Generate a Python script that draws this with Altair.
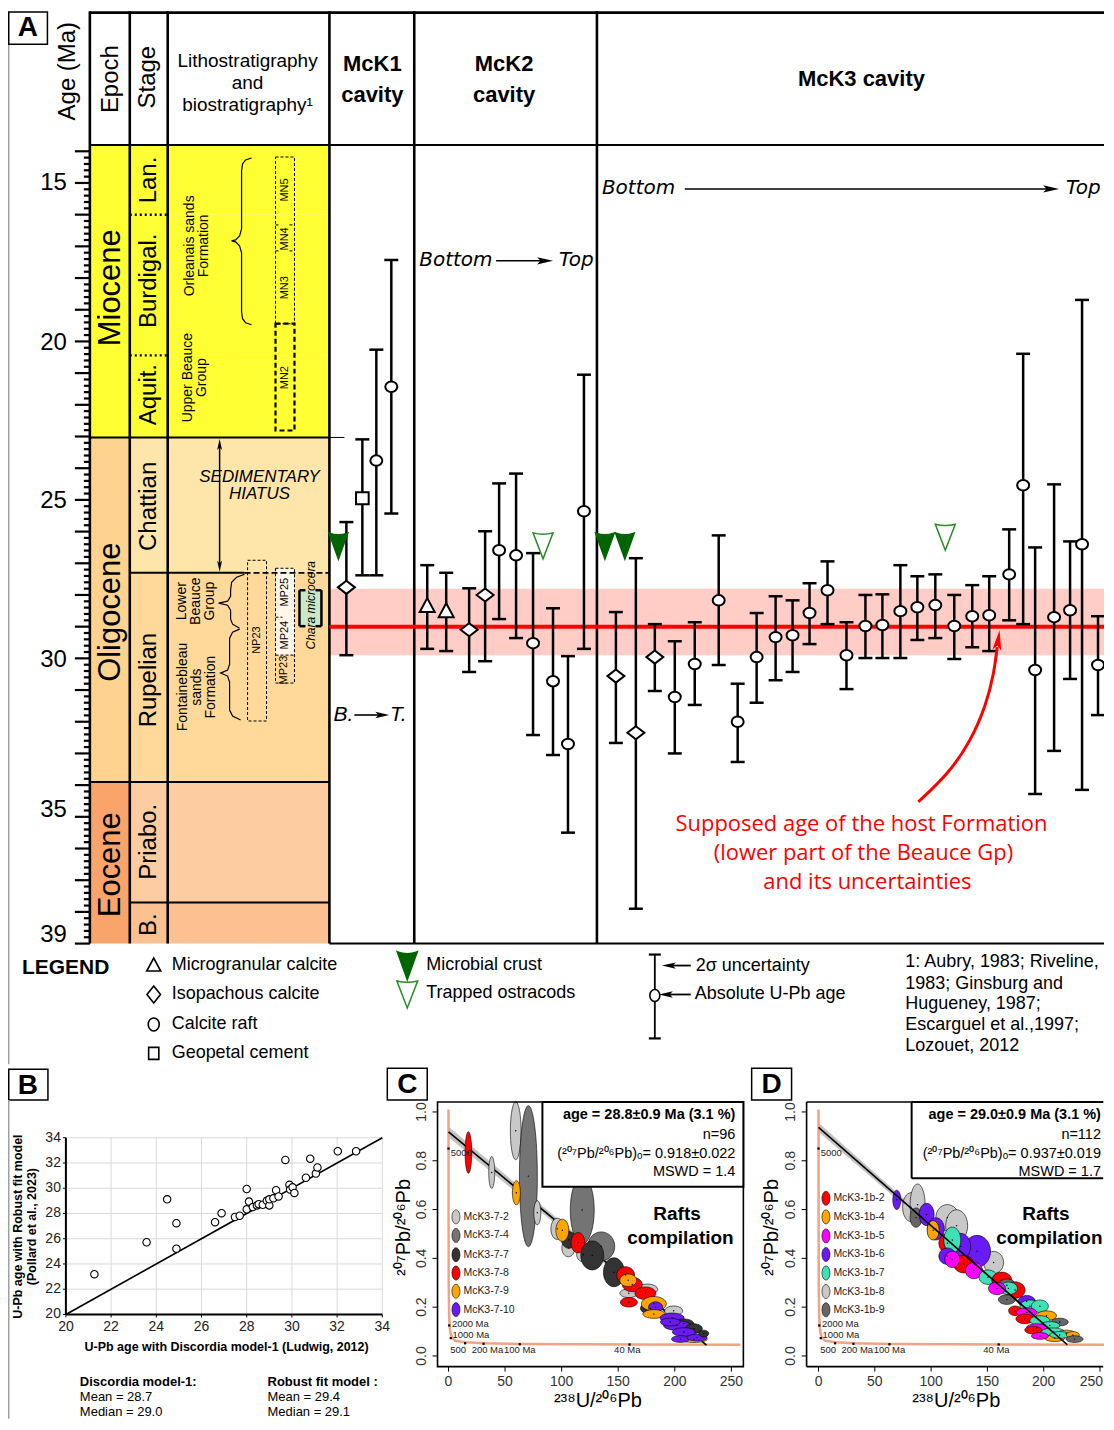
import altair as alt
import pandas as pd

F = "Liberation Sans"

# =====================================================================
# PANEL A DATA : U-Pb ages (Ma) of McK cavity calcites, 2-sigma bounds
# =====================================================================
seq_pos = [347, 363, 377, 392,
           428, 447, 470, 486, 500, 517, 534, 554, 569, 585,
           617, 637, 656, 676, 696, 720, 739, 758, 777, 794, 811, 829, 848,
           867, 884, 902, 919, 937, 956, 974, 991, 1011, 1025, 1037, 1056, 1072, 1084, 1100, 1116]
age_ma = [27.76, 24.95, 23.76, 21.43,
          28.32, 28.48, 29.10, 28.00, 26.59, 26.75, 29.52, 30.72, 32.70, 25.36,
          30.56, 32.35, 29.96, 31.22, 30.18, 28.17, 32.00, 29.96, 29.33, 29.27, 28.57, 27.85, 29.90,
          28.98, 28.95, 28.51, 28.39, 28.32, 28.98, 28.67, 28.64, 27.35, 24.54, 30.37, 28.70, 28.48, 26.40, 30.21, 29.17]
age_young = [25.70, 23.09, 20.26, 17.43,
             27.06, 27.30, 27.79, 25.99, 24.48, 24.17, 26.68, 28.42, 29.93, 21.05,
             28.54, 26.84, 28.92, 29.46, 28.86, 26.12, 30.80, 28.57, 28.04, 28.17, 27.63, 26.94, 28.86,
             28.00, 27.98, 27.06, 27.41, 27.35, 28.00, 27.69, 27.41, 25.93, 20.39, 26.50, 24.51, 26.31, 18.69, 28.67, 26.75]
age_old = [29.90, 27.38, 27.38, 25.43,
           29.70, 29.77, 30.43, 30.09, 28.76, 29.36, 32.42, 33.05, 35.50, 29.70,
           32.67, 37.90, 31.03, 33.00, 31.47, 30.21, 33.27, 31.40, 30.69, 30.43, 29.55, 28.92, 30.97,
           29.99, 29.99, 29.99, 29.42, 29.36, 30.02, 29.65, 29.77, 28.80, 28.92, 34.28, 32.92, 30.65, 34.15, 31.79, 31.00]
calcite = (["Isopachous", "Geopetal", "Raft", "Raft"]
           + ["Microgranular", "Microgranular", "Isopachous", "Isopachous"] + ["Raft"] * 6
           + ["Isopachous"] * 3 + ["Raft"] * 25 + ["Isopachous"])

crust_pos = [339, 606, 626]
crust_age = [26.45, 26.45, 26.45]
ostra_pos = [544, 947]
ostra_age = [26.45, 26.18]

host_age = 29.0
host_band = [27.8, 29.9]

epoch_name = ["Miocene", "Oligocene", "Eocene"]
epoch_top = [13.8, 23.03, 33.9]
epoch_base = [23.03, 33.9, 39.0]
stage_name = ["Lan.", "Burdigal.", "Aquit.", "Chattian", "Rupelian", "Priabo.", "B."]
stage_top = [13.8, 16.0, 20.44, 23.03, 27.3, 33.9, 37.7]
stage_base = [16.0, 20.44, 23.03, 27.3, 33.9, 37.7, 39.0]
age_labels = [15, 20, 25, 30, 35, 39]

# =====================================================================
# PANEL B DATA : Discordia model-1 vs Robust fit ages (Ma)
# =====================================================================
b_discordia = [21.26, 23.57, 24.48, 24.89, 24.89, 26.60, 26.89, 27.48, 27.69, 28.00, 28.00,
               28.10, 28.27, 28.45, 28.53, 28.71, 28.89, 29.00, 29.00, 29.18, 29.30, 29.41,
               29.71, 29.89, 29.92, 30.03, 30.11, 30.62, 30.81, 31.06, 31.13, 32.03, 32.84]
b_robust = [23.19, 25.72, 29.12, 27.23, 25.21, 27.31, 28.02, 27.72, 27.82, 29.94, 28.33,
            28.94, 28.51, 28.64, 28.74, 28.69, 29.00, 28.64, 29.12, 29.20, 29.84, 29.35,
            32.24, 30.27, 29.89, 30.07, 29.63, 30.83, 32.34, 31.16, 31.65, 32.93, 32.93]
b_ticks = [20, 22, 24, 26, 28, 30, 32, 34]

# =====================================================================
# PANEL C / D DATA : Tera-Wasserburg ellipses (238U/206Pb, 207Pb/206Pb)
# ellipse width / height in px
# =====================================================================
c_sample = ["McK3-7-2", "McK3-7-4", "McK3-7-4", "McK3-7-4", "McK3-7-8", "McK3-7-2", "McK3-7-9",
            "McK3-7-2", "McK3-7-2", "McK3-7-2", "McK3-7-2", "McK3-7-7", "McK3-7-9", "McK3-7-8",
            "McK3-7-7", "McK3-7-7", "McK3-7-2", "McK3-7-2", "McK3-7-8", "McK3-7-8", "McK3-7-9",
            "McK3-7-8", "McK3-7-8", "McK3-7-7", "McK3-7-9", "McK3-7-2", "McK3-7-10", "McK3-7-9",
            "McK3-7-10", "McK3-7-7", "McK3-7-10", "McK3-7-7", "McK3-7-10", "McK3-7-9", "McK3-7-10",
            "McK3-7-10", "McK3-7-7", "McK3-7-10"]
c_u238 = [59.4, 70.6, 118.2, 135.0, 17.6, 38.2, 60.0,
          78.5, 96.2, 105.9, 119.0, 106.5, 100.6, 114.4,
          127.0, 146.2, 175.6, 159.4, 156.5, 162.4, 158.8,
          174.0, 159.4, 178.5, 181.5, 199.0, 183.0, 181.5,
          197.6, 208.0, 202.0, 216.8, 208.0, 216.8, 205.0,
          219.7, 225.6, 196.0]
c_pb207 = [0.923, 0.737, 0.598, 0.449, 0.834, 0.752, 0.669,
           0.587, 0.521, 0.442, 0.416, 0.475, 0.515, 0.464,
           0.412, 0.343, 0.273, 0.257, 0.332, 0.293, 0.310,
           0.257, 0.220, 0.195, 0.214, 0.185, 0.200, 0.172,
           0.156, 0.132, 0.125, 0.112, 0.098, 0.069, 0.069,
           0.075, 0.092, 0.139]
c_w = [10.7, 18, 24, 27, 6.7, 6, 8,
       7, 13, 13, 13, 15, 13, 14,
       23, 21, 21, 18, 18, 20, 17,
       21, 17, 20, 25, 18, 14, 22,
       24, 20, 27, 17, 23, 27, 18,
       20, 10, 20]
c_h = [60, 146, 70, 30, 43, 33, 25,
       25, 22, 18, 15, 17, 23, 21,
       30, 30, 11, 9, 17, 15, 13,
       13, 10, 12, 15, 10, 11, 9,
       10, 10, 10, 10, 9, 7, 7,
       7, 7, 8]

d_sample = ["McK3-1b-8", "McK3-1b-8", "McK3-1b-8", "McK3-1b-8", "McK3-1b-8", "McK3-1b-9", "McK3-1b-6",
            "McK3-1b-6", "McK3-1b-6", "McK3-1b-4", "McK3-1b-6", "McK3-1b-6", "McK3-1b-2", "McK3-1b-7",
            "McK3-1b-6", "McK3-1b-2", "McK3-1b-5", "McK3-1b-5", "McK3-1b-7", "McK3-1b-2", "McK3-1b-9",
            "McK3-1b-2", "McK3-1b-7", "McK3-1b-5", "McK3-1b-9", "McK3-1b-6", "McK3-1b-7", "McK3-1b-7",
            "McK3-1b-2", "McK3-1b-5", "McK3-1b-4", "McK3-1b-2", "McK3-1b-7", "McK3-1b-9", "McK3-1b-7",
            "McK3-1b-5", "McK3-1b-2", "McK3-1b-7", "McK3-1b-4", "McK3-1b-4", "McK3-1b-7", "McK3-1b-5",
            "McK3-1b-4", "McK3-1b-9"]
d_u238 = [82.2, 88.0, 114.4, 122.7, 155.5, 86.6, 69.5,
          96.0, 104.2, 101.8, 140.8, 126.2, 114.4, 118.8,
          114.4, 129.0, 118.8, 138.0, 150.5, 162.8, 167.3,
          174.6, 168.7, 158.5, 167.3, 184.9, 187.8, 196.6,
          174.6, 184.9, 202.5, 183.3, 196.6, 214.2, 205.4,
          193.7, 190.7, 208.3, 220.0, 209.8, 214.2, 196.6,
          225.9, 227.4]
d_pb207 = [0.610, 0.620, 0.567, 0.534, 0.383, 0.567, 0.640,
           0.580, 0.521, 0.515, 0.429, 0.449, 0.462, 0.475,
           0.409, 0.376, 0.396, 0.350, 0.323, 0.310, 0.290,
           0.270, 0.277, 0.277, 0.231, 0.224, 0.204, 0.204,
           0.185, 0.178, 0.165, 0.152, 0.145, 0.139, 0.125,
           0.116, 0.106, 0.099, 0.092, 0.073, 0.086, 0.082,
           0.086, 0.069]
d_w = [17, 15, 23, 22, 20, 12, 8,
       15, 17, 12, 27, 20, 17, 17,
       17, 20, 15, 17, 18, 20, 17,
       20, 18, 17, 17, 17, 20, 17,
       13, 20, 20, 18, 20, 17, 20,
       20, 17, 23, 17, 20, 20, 17,
       13, 17]
d_h = [30, 43, 27, 33, 23, 20, 20,
       23, 23, 20, 33, 27, 20, 27,
       17, 18, 17, 17, 15, 17, 13,
       17, 13, 13, 10, 12, 13, 13,
       10, 10, 10, 10, 10, 8, 8,
       8, 8, 8, 7, 7, 7, 7,
       7, 7]
tw_xticks = [0, 50, 100, 150, 200, 250]
tw_yticks = [0.0, 0.2, 0.4, 0.6, 0.8, 1.0]

# concordia curve (238U/206Pb, 207Pb/206Pb)
conc_u = [0.0, 0.05, 0.2, 0.6, 1.5, 3.0, 6.0, 15.0, 31.0, 64.0, 160.0, 258.0]
conc_pb = [1.01, 0.60, 0.30, 0.16, 0.10, 0.075, 0.062, 0.056, 0.052, 0.049, 0.047, 0.046]
conc_mark_u = [0.0, 0.6, 2.0, 14.7, 31.0, 63.0, 160.0]
conc_mark_pb = [0.85, 0.125, 0.073, 0.052, 0.050, 0.048, 0.047]
conc_lab = ["5000", "2000 Ma", "1000 Ma", "500", "200 Ma", "100 Ma", "40 Ma"]

# regression (anchored) lines : intercept, end point
c_reg_u = [0.0, 228.0]
c_reg_pb = [0.918, 0.044]
c_reg_err = [0.022, 0.004]
d_reg_u = [0.0, 221.0]
d_reg_pb = [0.937, 0.046]
d_reg_err = [0.019, 0.004]

c_stats = ["age = 28.8\u00b10.9 Ma (3.1 %)", "n=96",
           "(\u00b2\u2070\u2077Pb/\u00b2\u2070\u2076Pb)\u2092= 0.918\u00b10.022", "MSWD = 1.4"]
d_stats = ["age = 29.0\u00b10.9 Ma (3.1 %)", "n=112",
           "(\u00b2\u2070\u2077Pb/\u00b2\u2070\u2076Pb)\u2092= 0.937\u00b10.019", "MSWD = 1.7"]

C_COL = {"McK3-7-2": "#C8C8C8", "McK3-7-4": "#747474", "McK3-7-7": "#333333",
         "McK3-7-8": "#FF0000", "McK3-7-9": "#FFA500", "McK3-7-10": "#6A1BF5"}
D_COL = {"McK3-1b-2": "#FF0000", "McK3-1b-4": "#FFA500", "McK3-1b-5": "#FF00FF",
         "McK3-1b-6": "#6A1BF5", "McK3-1b-7": "#3FE0B4", "McK3-1b-8": "#C8C8C8",
         "McK3-1b-9": "#666666"}

# =====================================================================
# helpers
# =====================================================================
def ell_path(w, h):
    m = max(w, h)
    rx, ry = w / m, h / m
    k = 0.5523
    f = lambda v: f"{v:.3f}"
    return (f"M{f(rx)},0 C{f(rx)},{f(k*ry)} {f(k*rx)},{f(ry)} 0,{f(ry)} "
            f"C{f(-k*rx)},{f(ry)} {f(-rx)},{f(k*ry)} {f(-rx)},0 "
            f"C{f(-rx)},{f(-k*ry)} {f(-k*rx)},{f(-ry)} 0,{f(-ry)} "
            f"C{f(k*rx)},{f(-ry)} {f(rx)},{f(-k*ry)} {f(rx)},0 Z")


def enc_xy(sx, sy):
    return dict(x=alt.X("x:Q", scale=sx, axis=None), y=alt.Y("y:Q", scale=sy, axis=None))


def rects(rows, sx, sy, fillcol=False, **mk):
    cols = ["x", "x2", "y", "y2"] + (["c"] if fillcol else [])
    df = pd.DataFrame(rows, columns=cols)
    enc = enc_xy(sx, sy)
    enc.update(x2=alt.X2("x2"), y2=alt.Y2("y2"))
    if fillcol:
        enc["fill"] = alt.Fill("c:N", scale=None)
    return alt.Chart(df).mark_rect(**mk).encode(**enc)


def segs(rows, sx, sy, **mk):
    df = pd.DataFrame(rows, columns=["x", "y", "x2", "y2"])
    enc = enc_xy(sx, sy)
    enc.update(x2=alt.X2("x2"), y2=alt.Y2("y2"))
    return alt.Chart(df).mark_rule(**mk).encode(**enc)


def texts(rows, sx, sy, **mk):
    df = pd.DataFrame(rows, columns=["t", "x", "y", "s", "a"])
    enc = enc_xy(sx, sy)
    enc.update(text=alt.Text("t:N"), size=alt.Size("s:Q", scale=None),
               angle=alt.Angle("a:Q", scale=None))
    mk.setdefault("baseline", "middle")
    return alt.Chart(df).mark_text(**mk).encode(**enc)


def syms(rows, sx, sy, **mk):
    df = pd.DataFrame(rows, columns=["x", "y", "p", "s", "a"])
    enc = enc_xy(sx, sy)
    enc.update(shape=alt.Shape("p:N", scale=None), size=alt.Size("s:Q", scale=None),
               angle=alt.Angle("a:Q", scale=None))
    mk.setdefault("opacity", 1)
    return alt.Chart(df).mark_point(**mk).encode(**enc)


def ticks(rows, sx, sy, size=13, width=2.5):
    df = pd.DataFrame(rows, columns=["x", "y"])
    return alt.Chart(df).mark_tick(orient="horizontal", size=size, thickness=width,
                                   color="black", opacity=1).encode(**enc_xy(sx, sy))


def curve(rows, sx, sy, **mk):
    df = pd.DataFrame(rows, columns=["g", "o", "x", "y"])
    enc = enc_xy(sx, sy)
    enc.update(detail="g:N", order="o:Q")
    return alt.Chart(df).mark_line(**mk).encode(**enc)


def ptext(t, x, y, size, **mk):
    mk.setdefault("baseline", "middle")
    return alt.Chart(pd.DataFrame({"t": [t]})).mark_text(fontSize=size, **mk).encode(
        x=alt.value(x), y=alt.value(y), text="t:N")


def prect(x, x2, y, y2, **mk):
    return alt.Chart(pd.DataFrame({"a": [0]})).mark_rect(**mk).encode(
        x=alt.value(x), x2=alt.value(x2), y=alt.value(y), y2=alt.value(y2))


TRI_R = "M1,0 L-1,-0.45 L-0.55,0 L-1,0.45 Z"
TRI_L = "M-1,0 L1,-0.45 L0.55,0 L1,0.45 Z"
TRI_U = "M0,-1 L0.45,1 L0,0.55 L-0.45,1 Z"
TRI_D = "M0,1 L0.45,-1 L0,-0.55 L-0.45,-1 Z"
CRUST = "M-0.72,-1 Q0,-0.72 0.72,-1 L0,1 Z"
OSTRA = "M-0.77,-1 Q0,-0.8 0.77,-1 L0,1 Z"
SHAPE = {"Microgranular": "M0,-0.93 L1,0.93 L-1,0.93 Z",
         "Isopachous": "M0,-0.77 L1,0 L0,0.77 L-1,0 Z",
         "Raft": ell_path(12, 10.5),
         "Geopetal": "M-1,-0.95 L1,-0.95 L1,0.95 L-1,0.95 Z"}
SIZE = {"Microgranular": 225, "Isopachous": 289, "Raft": 144, "Geopetal": 160}

# =====================================================================
# PANEL A
# =====================================================================
XR = 1106                    # right edge of the drawing (page px)
WA, HA = XR - 8, 1055


def ay(py):  # layout row (px from page top) -> position on the age axis
    return 15 + (py - 180) / 31.75


XA = alt.Scale(domain=[8, XR], range=[0, WA], nice=False, zero=False)
YA = alt.Scale(domain=[ay(8), ay(1063)], range=[0, HA], nice=False, zero=False)

EPOCH_COL = {"Miocene": "#FFFF33", "Oligocene": "#FDD38F", "Eocene": "#FAA46C"}
STAGE_COL = {"Lan.": "#FFFF33", "Burdigal.": "#FFFF33", "Aquit.": "#FFFF33",
             "Chattian": "#FEE6AA", "Rupelian": "#FED99A", "Priabo.": "#FDCDA1", "B.": "#FDC091"}

LA = []
fills = []
for n, t, b in zip(epoch_name, epoch_top, epoch_base):
    fills.append([90, 130, t, b, EPOCH_COL[n]])
for n, t, b in zip(stage_name, stage_top, stage_base):
    fills.append([130, 168, t, b, STAGE_COL[n]])
    fills.append([168, 330, t, b, STAGE_COL[n]])
LA.append(rects(fills, XA, YA, fillcol=True))
LA.append(rects([[330, XR, host_band[0], host_band[1], "#FFCDC6"],
                 [276, 295, ay(566), ay(653), "#FFF7EA"],
                 [300, 322, ay(588), ay(624), "#C8E8C8"],
                 [8.75, 47.5, ay(8.75), ay(41), "white"]], XA, YA, fillcol=True))

# age ruler + labels
int_ages = list(range(14, 40))
sub_ages = [round(14 + 0.2 * i, 1) for i in range(126) if (i % 5) != 0]
LA.append(segs([[75, a, 90, a] for a in int_ages] + [[84, a, 90, a] for a in sub_ages],
               XA, YA, color="black", strokeWidth=2.2))
label_rows = [ay(180), ay(340), ay(499), ay(658), ay(808), ay(933)]
LA.append(texts([[str(v), 67, yy, 24, 0] for v, yy in zip(age_labels, label_rows)], XA, YA,
                font=F, align="right", color="black"))

# frame / boundaries
LA.append(segs([[90, ay(9.3), XR, ay(9.3)],
                [90, ay(8), 90, 39.0], [130, ay(8), 130, 39.0], [168, ay(8), 168, 39.0],
                [330, ay(8), 330, 39.0], [415, ay(8), 415, 39.0], [598, ay(8), 598, 39.0]],
               XA, YA, color="black", strokeWidth=2.6))
LA.append(segs([[90, 13.8, XR, 13.8], [330, 39.0, XR, 39.0],
                [90, 23.03, 330, 23.03], [90, 33.9, 330, 33.9], [130, 37.7, 330, 37.7],
                [130, 27.3, 245, 27.3]], XA, YA, color="black", strokeWidth=2))
LA.append(segs([[330, 23.03, 345, 23.03]], XA, YA, color="black", strokeWidth=1))
LA.append(segs([[245, 27.3, 330, 27.3]], XA, YA, color="black", strokeWidth=1.8, strokeDash=[6, 3]))
LA.append(segs([[130, 16.0, 168, 16.0], [130, 20.44, 168, 20.44]], XA, YA,
               color="black", strokeWidth=2.5, strokeDash=[2, 3]))
LA.append(segs([[8.75, ay(41), 8.75, ay(1063)]], XA, YA, color="#A0A0A0", strokeWidth=1.5))
LA.append(rects([[8.75, 47.5, ay(8.75), ay(41)]], XA, YA, fillOpacity=0, stroke="black", strokeWidth=1.5))

# biostratigraphic boxes
LA.append(rects([[276, 295, ay(154), ay(321)], [248, 267, ay(558), ay(719)],
                 [276, 295, ay(566), ay(681)]], XA, YA,
                fillOpacity=0, stroke="black", strokeWidth=1, strokeDash=[3, 2]))
LA.append(rects([[276, 295, ay(321), ay(428)]], XA, YA,
                fillOpacity=0, stroke="black", strokeWidth=2.2, strokeDash=[5, 3]))
LA.append(segs([[276, ay(653), 295, ay(653)], [276, ay(615), 283, ay(615)],
                [276, ay(222), 281, ay(222)], [290, ay(222), 295, ay(222)],
                [276, ay(248), 281, ay(248)], [290, ay(248), 295, ay(248)]], XA, YA,
               color="black", strokeWidth=1, strokeDash=[3, 2]))
LA.append(segs([[300, ay(588), 300, ay(624)], [322, ay(588), 322, ay(624)],
                [300, ay(588), 306, ay(588)], [300, ay(624), 306, ay(624)],
                [316, ay(588), 322, ay(588)], [316, ay(624), 322, ay(624)]], XA, YA,
               color="black", strokeWidth=2.5))

# braces
brace_rows = []
b1 = [(252, 155), (246, 157), (243, 161), (242, 168), (242, 226), (240, 233), (236, 237), (232, 238),
      (236, 239), (240, 243), (242, 250), (242, 309), (243, 316), (246, 320), (252, 322)]
b2 = [(245, 572), (237, 575), (232, 580), (231, 588), (231, 594), (228, 599), (219, 601), (228, 603),
      (231, 608), (231, 617), (233, 622), (240, 626)]
b3 = [(240, 627), (233, 630), (230, 636), (230, 662), (228, 668), (221, 671), (228, 674), (230, 680),
      (230, 708), (233, 714), (241, 718)]
for g, pts in enumerate([b1, b2, b3]):
    for o, (px, py) in enumerate(pts):
        brace_rows.append([g, o, px, ay(py)])
LA.append(curve(brace_rows, XA, YA, color="black", strokeWidth=1.2))

# hiatus double arrow
LA.append(segs([[220, ay(444), 220, ay(562)]], XA, YA, color="black", strokeWidth=1.5))
LA.append(syms([[220, ay(442), TRI_U, 121, 0], [220, ay(564), TRI_D, 121, 0]], XA, YA,
               filled=True, color="black"))

# host formation age
LA.append(segs([[330, host_age, XR, host_age]], XA, YA, color="#FF0000", strokeWidth=4))

# error bars, caps and points
dfp = pd.DataFrame({"x": seq_pos, "y": age_ma, "lo": age_young, "hi": age_old, "k": calcite})
dfp["p"] = dfp["k"].map(SHAPE)
dfp["s"] = dfp["k"].map(SIZE)
LA.append(alt.Chart(dfp).mark_rule(color="black", strokeWidth=2.5, clip=True).encode(
    x=alt.X("x:Q", scale=XA, axis=None), y=alt.Y("lo:Q", scale=YA, axis=None), y2=alt.Y2("hi")))
LA.append(alt.Chart(dfp).mark_tick(orient="horizontal", size=14, thickness=2.5, color="black",
                                   opacity=1, clip=True).encode(
    x=alt.X("x:Q", scale=XA, axis=None), y=alt.Y("lo:Q", scale=YA, axis=None)))
LA.append(alt.Chart(dfp).mark_tick(orient="horizontal", size=14, thickness=2.5, color="black",
                                   opacity=1, clip=True).encode(
    x=alt.X("x:Q", scale=XA, axis=None), y=alt.Y("hi:Q", scale=YA, axis=None)))
LA.append(alt.Chart(dfp).mark_point(filled=True, fill="white", stroke="black", strokeWidth=2,
                                    opacity=1, clip=True).encode(
    x=alt.X("x:Q", scale=XA, axis=None), y=alt.Y("y:Q", scale=YA, axis=None),
    shape=alt.Shape("p:N", scale=None), size=alt.Size("s:Q", scale=None)))
LA.append(syms([[x, a, CRUST, 625, 0] for x, a in zip(crust_pos, crust_age)], XA, YA,
               filled=True, fill="#006400", stroke="#006400"))
LA.append(syms([[x, a, OSTRA, 676, 0] for x, a in zip(ostra_pos, ostra_age)], XA, YA,
               filled=False, color="#2A8A2A", strokeWidth=1.5))

# Bottom -> Top arrows
LA.append(segs([[355, ay(713), 382, ay(713)], [497, ay(258), 545, ay(258)],
                [686, ay(186), 1052, ay(186)]], XA, YA, color="black", strokeWidth=1.6))
LA.append(syms([[383, ay(713), TRI_R, 196, 0], [546, ay(258), TRI_R, 256, 0],
                [1053, ay(186), TRI_R, 256, 0]], XA, YA, filled=True, color="black"))

# red annotation arrow
red_pts = [(920, 800), (950, 772), (972, 740), (988, 703), (996, 670), (999, 645)]
LA.append(curve([[0, o, px, ay(py)] for o, (px, py) in enumerate(red_pts)], XA, YA,
                color="#FF0000", strokeWidth=3, interpolate="basis"))
LA.append(syms([[1000, ay(638), TRI_U, 400, 8]], XA, YA, filled=True, color="#FF0000"))

# --- texts ---
LA.append(texts([
    ["Age (Ma)", 68, ay(68), 24, 270], ["Epoch", 111, ay(76), 24, 270], ["Stage", 148, ay(74), 24, 270],
    ["Lithostratigraphy", 248, ay(58), 19, 0], ["and", 248, ay(80), 19, 0],
    ["biostratigraphy\u00b9", 248, ay(102), 19, 0],
    ["Miocene", 111, ay(285), 31, 270], ["Oligocene", 111, ay(610), 31, 270], ["Eocene", 111, ay(863), 31, 270],
    ["Lan.", 149, ay(177), 24, 270], ["Burdigal.", 149, ay(278), 24, 270], ["Aquit.", 149, ay(392), 24, 270],
    ["Chattian", 149, ay(504), 24, 270], ["Rupelian", 149, ay(678), 24, 270], ["Priabo.", 149, ay(840), 24, 270],
    ["B.", 149, ay(923), 24, 270],
    ["Orleanais sands", 190, ay(243), 14, 270], ["Formation", 204, ay(243), 14, 270],
    ["Upper Beauce", 188, ay(375), 14, 270], ["Group", 202, ay(375), 14, 270],
    ["Lower", 182, ay(599), 14, 270], ["Beauce", 196, ay(599), 14, 270], ["Group", 210, ay(599), 14, 270],
    ["Fontainebleau", 183, ay(685), 14, 270], ["sands", 197, ay(685), 14, 270],
    ["Formation", 211, ay(685), 14, 270],
    ["MN5", 286, ay(187), 11, 270], ["MN4", 286, ay(236), 11, 270], ["MN3", 286, ay(285), 11, 270],
    ["MN2", 286, ay(375), 11, 270], ["NP23", 257, ay(638), 11, 270], ["MP25", 286, ay(590), 11, 270],
    ["MP24", 286, ay(633), 11, 270], ["MP23", 285, ay(668), 11, 270],
], XA, YA, font=F, align="center", color="black"))
LA.append(texts([["McK1", 373, ay(61), 22, 0], ["cavity", 373, ay(92), 22, 0],
                 ["McK2", 505, ay(61), 22, 0], ["cavity", 505, ay(92), 22, 0],
                 ["McK3 cavity", 863, ay(76), 22, 0], ["A", 28, ay(25), 28, 0]],
                XA, YA, font=F, fontWeight="bold", align="center", color="black"))
LA.append(texts([["SEDIMENTARY", 260, ay(475), 17, 0], ["HIATUS", 260, ay(492), 17, 0],
                 ["B.", 344, ay(713), 21, 0], ["T.", 399, ay(713), 21, 0],
                 ["Chara microcera", 312, ay(603), 12, 270]],
                XA, YA, font=F, fontStyle="italic", align="center", color="black"))
LA.append(texts([["Bottom", 420, ay(257), 20, 0], ["Top", 560, ay(257), 20, 0],
                 ["Bottom", 603, ay(185), 20, 0], ["Top", 1068, ay(185), 20, 0]],
                XA, YA, font="DejaVu Sans", fontStyle="italic", align="left", color="black"))
LA.append(texts([["Supposed age of the host Formation", 863, ay(822), 22, 0],
                 ["(lower part of the Beauce Gp)", 865, ay(851), 22, 0],
                 ["and its uncertainties", 869, ay(880), 22, 0]],
                XA, YA, font="Open Sans", align="center", color="#FF0000"))

# --- legend ---
LA.append(texts([["LEGEND", 22, ay(966), 21, 0]], XA, YA, font=F, fontWeight="bold",
                align="left", color="black"))
LA.append(texts([["Microgranular calcite", 172, ay(963), 18, 0], ["Isopachous calcite", 172, ay(993), 18, 0],
                 ["Calcite raft", 172, ay(1023), 18, 0], ["Geopetal cement", 172, ay(1052), 18, 0],
                 ["Microbial crust", 427, ay(963), 18, 0], ["Trapped ostracods", 427, ay(992), 18, 0],
                 ["2\u03c3 uncertainty", 697, ay(964), 18, 0], ["Absolute U-Pb age", 696, ay(993), 18, 0],
                 ["1: Aubry, 1983; Riveline,", 907, ay(960), 18, 0], ["1983; Ginsburg and", 907, ay(982), 18, 0],
                 ["Hugueney, 1987;", 907, ay(1003), 18, 0], ["Escarguel et al.,1997;", 907, ay(1024), 18, 0],
                 ["Lozouet, 2012", 907, ay(1045), 18, 0]],
                XA, YA, font=F, align="left", color="black"))
LA.append(syms([[154, ay(963), "M0,-0.93 L1,0.93 L-1,0.93 Z", 196, 0],
                [154, ay(993), "M0,-1 L0.8,0 L0,1 L-0.8,0 Z", 289, 0],
                [154, ay(1023), ell_path(11, 13), 169, 0],
                [154, ay(1052), "M-0.85,-1 L0.85,-1 L0.85,1 L-0.85,1 Z", 144, 0]], XA, YA,
               filled=True, fill="white", stroke="black", strokeWidth=1.6))
LA.append(syms([[408, ay(964), CRUST, 729, 0]], XA, YA, filled=True, fill="#006400", stroke="#006400"))
LA.append(syms([[408, ay(993), OSTRA, 729, 0]], XA, YA, filled=False, color="#2A8A2A", strokeWidth=1.5))
LA.append(segs([[656, ay(953), 656, ay(1037)], [670, ay(964), 692, ay(964)], [666, ay(993), 692, ay(993)]],
               XA, YA, color="black", strokeWidth=1.8))
LA.append(ticks([[656, ay(953)], [656, ay(1037)]], XA, YA, size=12, width=2.2))
LA.append(syms([[656, ay(994), ell_path(10, 12), 144, 0]], XA, YA, filled=True, fill="white",
               stroke="black", strokeWidth=1.6))
LA.append(syms([[670, ay(964), TRI_L, 196, 0], [667, ay(993), TRI_L, 196, 0]], XA, YA,
               filled=True, color="black"))

panelA = alt.layer(*LA).properties(width=WA, height=HA)

# =====================================================================
# bottom panels layout
# =====================================================================
HB = 355
VF = HB / 367.0
WB, WC = 377, 365
WD = XR - 8 - WB - WC


def by(py):  # page row of the reference (px) -> row inside the bottom panels
    return (py - 1063) * VF


# ------------------------------ PANEL B ------------------------------
XB = alt.Scale(domain=[20, 34], range=[58, 375], nice=False, zero=False)
YB = alt.Scale(domain=[20, 34], range=[by(1322), by(1139)], nice=False, zero=False)
pxB = (375 - 58) / 14.0
pyB = (by(1322) - by(1139)) / 14.0
LB = []
LB.append(segs([[v, 20, v, 34] for v in b_ticks] + [[20, v, 34, v] for v in b_ticks],
               XB, YB, color="#D9D9D9", strokeWidth=1))
LB.append(segs([[20, 20, 34, 34]], XB, YB, color="black", strokeWidth=1.6))
LB.append(segs([[20, 20, 34, 20], [20, 20, 20, 34]], XB, YB, color="black", strokeWidth=2))
LB.append(segs([[v, 20, v, 20 - 3 / pyB] for v in b_ticks] + [[20, v, 20 - 3 / pxB, v] for v in b_ticks],
               XB, YB, color="black", strokeWidth=1))
LB.append(texts([[str(v), v, 20 - (by(1335) - by(1322)) / pyB, 14, 0] for v in b_ticks], XB, YB, font=F,
                align="center", color="#222222"))
LB.append(texts([[str(v), 20 - 5 / pxB, v, 14, 0] for v in b_ticks], XB, YB, font=F,
                align="right", color="#222222"))
dfb = pd.DataFrame({"x": b_discordia, "y": b_robust})
LB.append(alt.Chart(dfb).mark_point(shape="circle", filled=True, fill="white", stroke="black",
                                    strokeWidth=1.1, size=55, opacity=1).encode(**enc_xy(XB, YB)))
LB.append(ptext("U-Pb age with Discordia model-1 (Ludwig, 2012)", 219, by(1356), 12.5, font=F,
                fontWeight="bold", align="center"))
LB.append(ptext("U-Pb age with Robust fit model", 10, by(1231), 12.5, font=F, fontWeight="bold",
                align="center", angle=270))
LB.append(ptext("(Pollard et al., 2023)", 24, by(1231), 12.5, font=F, fontWeight="bold",
                align="center", angle=270))
LB.append(prect(0.75, 40, by(1068), by(1100), fill="white", stroke="black", strokeWidth=1.5))
LB.append(ptext("B", 20, by(1085), 28, font=F, fontWeight="bold", align="center"))
LB.append(ptext("Discordia model-1:", 72, by(1392), 13, font=F, fontWeight="bold", align="left"))
LB.append(ptext("Mean = 28.7", 72, by(1407), 13, font=F, align="left"))
LB.append(ptext("Median = 29.0", 72, by(1423), 13, font=F, align="left"))
LB.append(ptext("Robust fit model :", 260, by(1392), 13, font=F, fontWeight="bold", align="left"))
LB.append(ptext("Mean = 29.4", 260, by(1407), 13, font=F, align="left"))
LB.append(ptext("Median = 29.1", 260, by(1423), 13, font=F, align="left"))
LB.append(prect(0, 1.5, by(1100), HB, fill="#A0A0A0"))
panelB = alt.layer(*LB).properties(width=WB, height=HB)

# --------------------------- PANELS C & D ----------------------------
Y0PX, Y1PX = by(1365), by(1112.3)
PYU = Y0PX - Y1PX
FY0 = -(by(1376) - Y0PX) / PYU
FY1 = 1 + (Y1PX - by(1102)) / PYU


def tw_panel(W, XS, YS, fx0, fx1, samples, us, pbs, ws, hs, cols, reg_u, reg_pb, reg_err,
             stats, stat_x0, stat_y0, legy, line_on_top, label, closed_right, xtitle_x, ytitle_x,
             stat_right):
    L = []
    r0, r1 = XS.range
    pxu = (r1 - r0) / 250.0
    fy0, fy1 = FY0, FY1
    # regression band
    dfr = pd.DataFrame({"x": reg_u, "y": [p - e for p, e in zip(reg_pb, reg_err)],
                        "y2": [p + e for p, e in zip(reg_pb, reg_err)]})
    L.append(alt.Chart(dfr).mark_area(color="#BDBDBD", opacity=0.9).encode(
        x=alt.X("x:Q", scale=XS, axis=None), y=alt.Y("y:Q", scale=YS, axis=None), y2=alt.Y2("y2")))
    # concordia
    L.append(curve([[0, o, u, p] for o, (u, p) in enumerate(zip(conc_u, conc_pb))], XS, YS,
                   color="#F0A385", strokeWidth=2.5, clip=True))
    reg_line = curve([[0, 0, reg_u[0], reg_pb[0]], [0, 1, reg_u[1], reg_pb[1]]], XS, YS,
                     color="black", strokeWidth=1.6)
    if not line_on_top:
        L.append(reg_line)
    # ellipses
    dfe = pd.DataFrame({"x": us, "y": pbs, "w": ws, "h": hs, "s": samples})
    dfe["p"] = [ell_path(w, h * VF) for w, h in zip(dfe.w, dfe.h)]
    dfe["sz"] = [max(w, h * VF) ** 2 for w, h in zip(dfe.w, dfe.h)]
    dfe["c"] = dfe["s"].map(cols)
    dfe["o"] = list(range(len(dfe)))
    L.append(alt.Chart(dfe).mark_point(filled=True, stroke="black", strokeWidth=0.6, opacity=1).encode(
        x=alt.X("x:Q", scale=XS, axis=None), y=alt.Y("y:Q", scale=YS, axis=None),
        shape=alt.Shape("p:N", scale=None), size=alt.Size("sz:Q", scale=None),
        fill=alt.Fill("c:N", scale=None), order=alt.Order("o:Q")))
    L.append(alt.Chart(dfe).mark_point(filled=True, color="black", size=2, opacity=1).encode(
        x=alt.X("x:Q", scale=XS, axis=None), y=alt.Y("y:Q", scale=YS, axis=None)))
    if line_on_top:
        L.append(reg_line)
    # concordia age marks
    dfm = pd.DataFrame({"x": conc_mark_u, "y": conc_mark_pb})
    L.append(alt.Chart(dfm).mark_point(shape="square", filled=True, color="black", size=5, opacity=1).encode(
        x=alt.X("x:Q", scale=XS, axis=None), y=alt.Y("y:Q", scale=YS, axis=None)))
    L.append(texts([[conc_lab[0], 2, 0.83, 9.5, 0], [conc_lab[1], 3, 0.132, 9.5, 0],
                    [conc_lab[2], 3.5, 0.086, 9.5, 0]], XS, YS, font=F, align="left", color="#222222"))
    L.append(texts([[conc_lab[3], 8.5, 0.024, 9.5, 0], [conc_lab[4], 34.4, 0.024, 9.5, 0],
                    [conc_lab[5], 63, 0.024, 9.5, 0], [conc_lab[6], 158, 0.024, 9.5, 0]],
                   XS, YS, font=F, align="center", color="#222222"))
    # frame
    if closed_right:
        L.append(rects([[fx0, fx1, fy0, fy1]], XS, YS, fillOpacity=0, stroke="black", strokeWidth=1.6))
    else:
        L.append(segs([[fx0, fy0, fx0, fy1], [fx0, fy0, fx1, fy0], [fx0, fy1, fx1, fy1]], XS, YS,
                      color="black", strokeWidth=1.6))
    # axes (R style: ticks outside the box)
    L.append(segs([[v, fy0, v, fy0 - 5 / PYU] for v in tw_xticks]
                  + [[fx0, v, fx0 - 5 / pxu, v] for v in tw_yticks], XS, YS, color="black", strokeWidth=1))
    lab_y = -(by(1392) - Y0PX) / PYU
    edge_u = (W - 1 - r0) / pxu
    centred = [[str(v), v, lab_y, 14, 0] for v in tw_xticks if (v + 12 / pxu) <= edge_u]
    flushed = [[str(v), edge_u, lab_y, 14, 0] for v in tw_xticks if (v + 12 / pxu) > edge_u]
    L.append(texts(centred, XS, YS, font=F, align="center", color="#333333"))
    if flushed:
        L.append(texts(flushed, XS, YS, font=F, align="right", color="#333333"))
    L.append(texts([[f"{v:.1f}", fx0 - 15.5 / pxu, v, 14, 270] for v in tw_yticks], XS, YS, font=F,
                   align="center", color="#333333"))
    L.append(ptext("\u00b2\u00b3\u2078U/\u00b2\u2070\u2076Pb", xtitle_x, by(1412), 20, font=F, align="center"))
    L.append(ptext("\u00b2\u2070\u2077Pb/\u00b2\u2070\u2076Pb", ytitle_x, by(1232), 20, font=F,
                   align="center", angle=270))
    # stats box
    if closed_right:
        L.append(rects([[stat_x0, fx1, stat_y0, fy1]], XS, YS, fill="white", stroke="black", strokeWidth=2))
    else:
        L.append(rects([[stat_x0, fx1, stat_y0, fy1]], XS, YS, fill="white"))
        L.append(segs([[stat_x0, stat_y0, stat_x0, fy1], [stat_x0, stat_y0, fx1, stat_y0],
                       [stat_x0, fy1, fx1, fy1]], XS, YS, color="black", strokeWidth=2))
    L.append(texts([[stats[0], stat_right, 0.989, 14.5, 0]], XS, YS, font=F, fontWeight="bold",
                   align="right", color="black"))
    L.append(texts([[stats[1], stat_right, 0.904, 14.5, 0], [stats[2], stat_right, 0.827, 14.5, 0],
                    [stats[3], stat_right, 0.752, 14.5, 0]], XS, YS, font=F, align="right", color="black"))
    L.append(texts([["Rafts", 202, 0.583, 19, 0], ["compilation", 205, 0.485, 19, 0]], XS, YS,
                   font=F, fontWeight="bold", align="center", color="black"))
    # sample legend
    names = list(cols.keys())
    dfl = pd.DataFrame({"x": [6.6] * len(legy), "y": legy, "c": [cols[n] for n in names],
                        "p": [ell_path(8, 14)] * len(legy), "s": [196] * len(legy)})
    L.append(alt.Chart(dfl).mark_point(filled=True, stroke="black", strokeWidth=0.6, opacity=1).encode(
        x=alt.X("x:Q", scale=XS, axis=None), y=alt.Y("y:Q", scale=YS, axis=None),
        shape=alt.Shape("p:N", scale=None), size=alt.Size("s:Q", scale=None),
        fill=alt.Fill("c:N", scale=None)))
    L.append(texts([[n, 13.2, yy, 10.5, 0] for n, yy in zip(names, legy)], XS, YS, font=F,
                   align="left", color="#222222"))
    # panel label
    L.append(prect(3, 43, by(1067), by(1100), fill="white", stroke="black", strokeWidth=1.5))
    L.append(ptext(label, 23, by(1084), 28, font=F, fontWeight="bold", align="center"))
    return alt.layer(*L).properties(width=W, height=HB)


YC = alt.Scale(domain=[0, 1], range=[Y0PX, Y1PX], nice=False, zero=False)
XC = alt.Scale(domain=[0, 250], range=[64.3, 347.7], nice=False, zero=False)
XD = alt.Scale(domain=[0, 250], range=[70.0, 352.0], nice=False, zero=False)
d_right = (WD - 0.8 - 70.0) / (282.0 / 250.0)

panelC = tw_panel(WC, XC, YC, -9.7, 260.6, c_sample, c_u238, c_pb207, c_w, c_h,
                  C_COL, c_reg_u, c_reg_pb, c_reg_err, c_stats, 83.0, 0.693,
                  [0.570, 0.494, 0.415, 0.340, 0.265, 0.190], False, "C", True, 214, 20, 253.5)
panelD = tw_panel(WD, XD, YC, -10.6, d_right, d_sample, d_u238, d_pb207, d_w, d_h,
                  D_COL, d_reg_u, d_reg_pb, d_reg_err, d_stats, 82.7, 0.728,
                  [0.646, 0.570, 0.492, 0.416, 0.340, 0.264, 0.189], True, "D", False, 208, 23,
                  d_right - 2.0)

bottom = alt.hconcat(panelB, panelC, panelD, spacing=0, bounds="flush")
chart = (alt.vconcat(panelA, bottom, spacing=0, bounds="flush")
         .properties(padding=0, background="white")
         .configure_view(strokeWidth=0)
         .configure_text(font=F))

chart.save("out.html", embed_options={"renderer": "svg", "actions": False})
